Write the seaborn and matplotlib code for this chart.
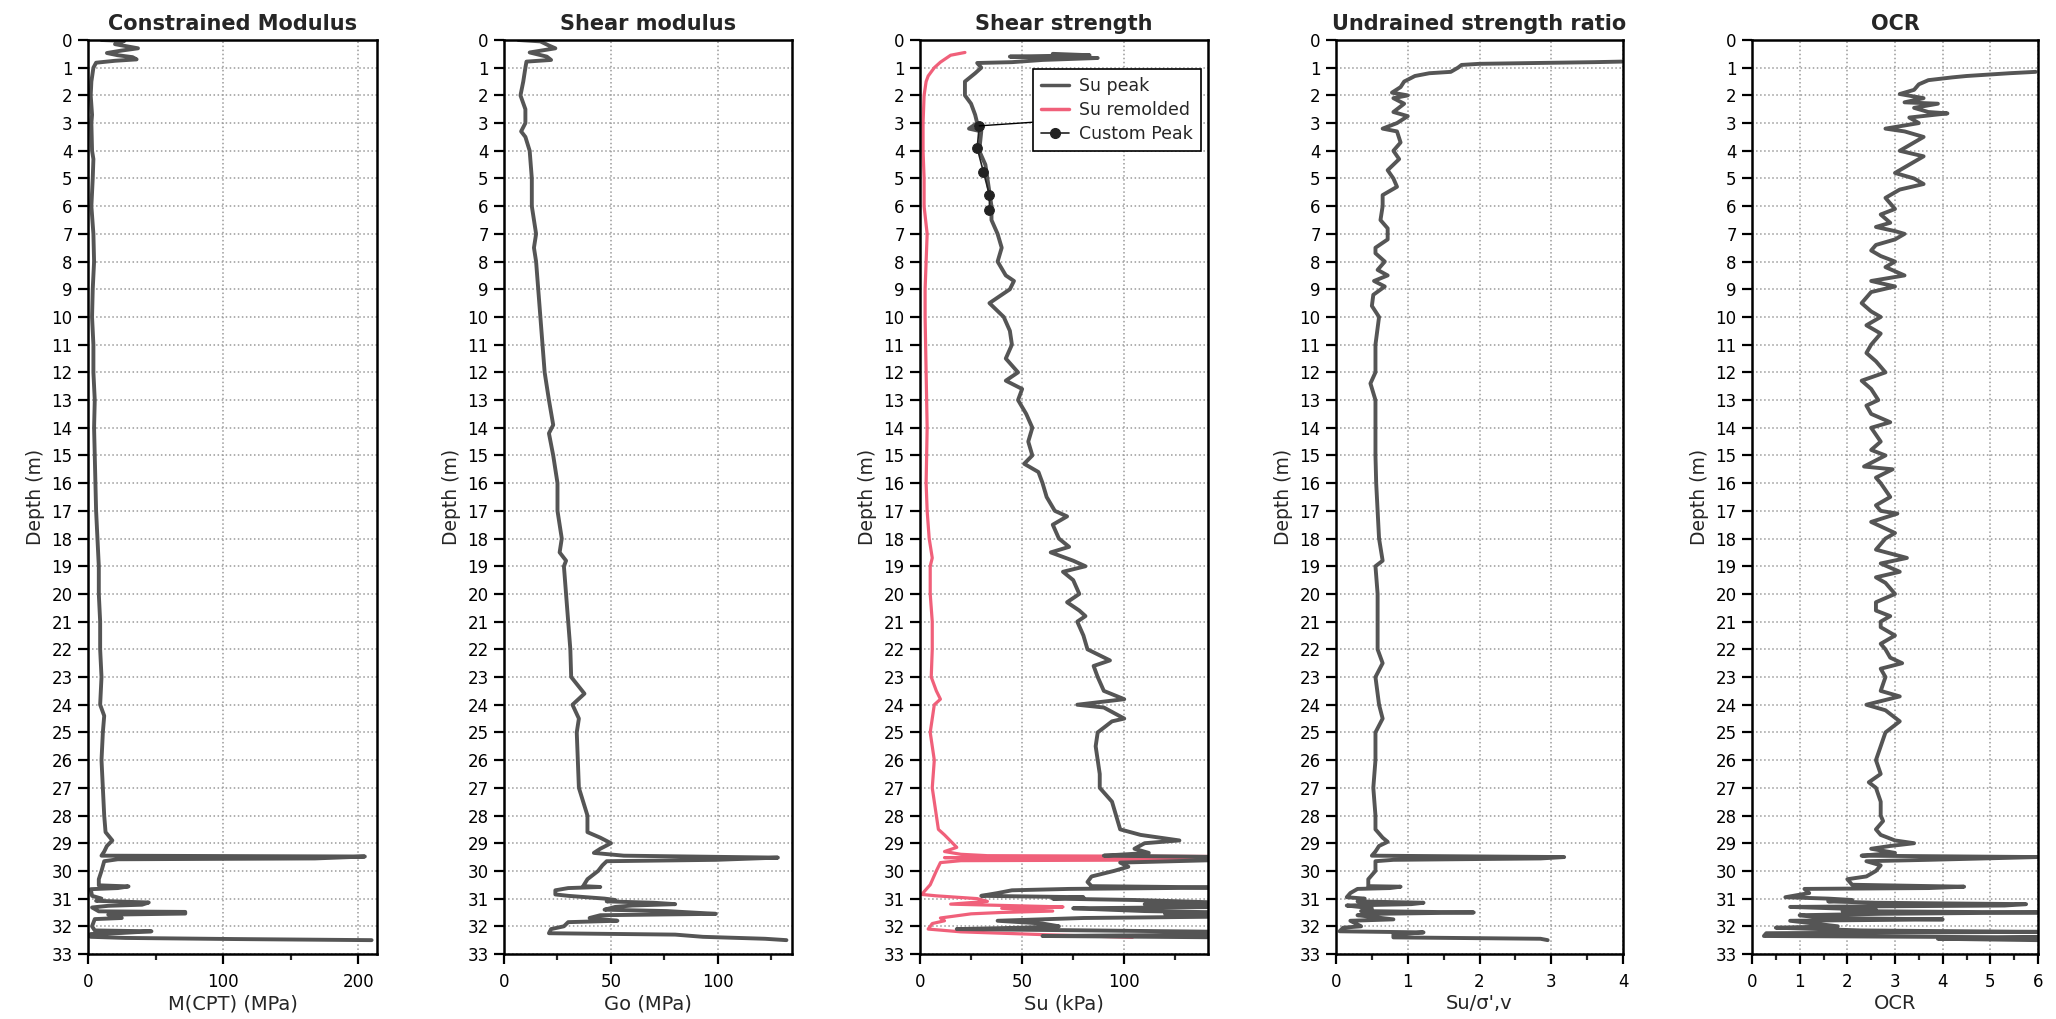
import matplotlib
matplotlib.use("Agg")
import matplotlib.pyplot as plt
from matplotlib.lines import Line2D
from matplotlib.ticker import MultipleLocator
import numpy as np
import pandas as pd
import seaborn as sns

# (depth m, value) pairs
m_cpt = [(0.0, 10), (0.03, 27), (0.15, 20), (0.30, 37), (0.38, 25), (0.47, 14), (0.55, 22),
         (0.62, 33), (0.70, 36), (0.75, 20), (0.82, 6), (1.0, 4), (1.5, 2.5), (2.0, 2), (2.7, 3),
         (3.0, 2.5), (4.0, 3), (4.3, 4), (5.0, 3.5), (6.0, 2.5), (7.0, 4), (8.0, 4.5), (9.0, 3.5),
         (10.0, 3), (11.0, 4), (12.0, 4), (13.0, 5), (14.0, 4.5), (15.0, 5), (16.0, 5.5), (17.0, 6),
         (18.0, 7), (19.0, 8), (20.0, 8), (21.0, 9), (22.0, 9), (23.0, 10), (24.0, 9), (24.4, 12),
         (25.0, 11), (26.0, 10), (27.0, 11), (28.0, 12), (28.6, 13), (28.9, 18), (29.1, 14),
         (29.3, 12), (29.45, 10), (29.48, 205), (29.55, 168), (29.58, 22), (29.65, 12), (30.0, 10),
         (30.3, 8), (30.52, 8), (30.56, 30), (30.62, 22), (30.66, 2), (30.9, 3), (31.0, 10),
         (31.08, 6), (31.14, 45), (31.22, 40), (31.26, 15), (31.32, 3), (31.46, 8), (31.48, 72),
         (31.54, 72), (31.58, 15), (31.7, 25), (31.74, 5), (32.0, 3), (32.15, 5), (32.18, 47),
         (32.24, 25), (32.28, 2), (32.38, 2), (32.42, 28), (32.46, 108), (32.5, 210)]

go = [(0.0, 6.7), (0.05, 17), (0.2, 21), (0.3, 24), (0.45, 12), (0.6, 20), (0.72, 22), (0.78, 10.5),
      (1.0, 10), (1.5, 9), (2.0, 7.7), (2.5, 10), (3.0, 10), (3.3, 8), (3.5, 10), (4.0, 12),
      (5.0, 13), (6.0, 13), (7.0, 15), (7.5, 14), (8.0, 15), (9.0, 16), (10.0, 17), (11.0, 18),
      (12.0, 19), (13.0, 21), (13.9, 23), (14.2, 21), (15.0, 23), (16.0, 25), (17.0, 25),
      (18.0, 27), (18.5, 26), (18.8, 29), (19.0, 28), (20.0, 29), (21.0, 30), (22.0, 31),
      (23.0, 31.4), (23.6, 37.6), (24.0, 32), (24.5, 35), (25.0, 34), (26.0, 34.5), (27.0, 35),
      (27.5, 37), (28.0, 39), (28.6, 39), (28.8, 45), (29.0, 50), (29.2, 45), (29.35, 42),
      (29.45, 56), (29.52, 128), (29.6, 99), (29.65, 48), (29.8, 46), (30.0, 44), (30.3, 39),
      (30.55, 37), (30.58, 45), (30.62, 30), (30.7, 24), (30.85, 24), (30.9, 30), (31.0, 47),
      (31.05, 52), (31.1, 48), (31.15, 70), (31.2, 80), (31.25, 60), (31.3, 52), (31.4, 47),
      (31.45, 76), (31.55, 99), (31.6, 45), (31.7, 40), (31.8, 53), (31.85, 30), (32.0, 28),
      (32.1, 22), (32.25, 21), (32.3, 80), (32.38, 93), (32.45, 122), (32.5, 132)]

su_peak = [(0.5, 65), (0.55, 83), (0.6, 44), (0.65, 87), (0.72, 60), (0.8, 45), (0.83, 28),
           (1.0, 30), (1.2, 27), (1.5, 22), (2.0, 22), (2.3, 25), (2.7, 27), (3.0, 28), (3.2, 24),
           (3.3, 30), (4.0, 29), (4.5, 32), (5.0, 33), (5.5, 34), (6.0, 35), (6.5, 35), (7.0, 38),
           (7.5, 40), (8.0, 38), (8.5, 42), (8.7, 46), (9.0, 44), (9.5, 34), (10.0, 41), (10.5, 44),
           (11.0, 45), (11.5, 42), (12.0, 48), (12.3, 42), (12.6, 50), (13.0, 48), (13.5, 52),
           (14.0, 55), (14.5, 53), (15.0, 55), (15.3, 51), (15.6, 58), (16.0, 60), (16.5, 62),
           (17.0, 66), (17.2, 72), (17.5, 65), (18.0, 68), (18.3, 73), (18.5, 64), (18.8, 75),
           (19.0, 81), (19.2, 70), (19.5, 75), (20.0, 78), (20.3, 72), (20.6, 78), (20.8, 81),
           (21.0, 77), (21.5, 80), (22.0, 82), (22.4, 93), (22.6, 85), (23.0, 87), (23.5, 90),
           (23.8, 100), (24.0, 77), (24.1, 90), (24.5, 100), (24.6, 94), (25.0, 87), (25.5, 86),
           (26.0, 87), (26.5, 88), (27.0, 88), (27.5, 94), (28.0, 96), (28.5, 98), (28.7, 108),
           (28.9, 127), (29.0, 110), (29.2, 105), (29.35, 112), (29.45, 90), (29.5, 150),
           (29.6, 150), (29.7, 98), (29.85, 102), (30.0, 95), (30.2, 84), (30.4, 82), (30.55, 84),
           (30.6, 150), (30.65, 73), (30.7, 45), (30.8, 38), (30.9, 30), (30.95, 80), (31.0, 65),
           (31.05, 105), (31.15, 150), (31.2, 110), (31.3, 150), (31.35, 75), (31.45, 110),
           (31.5, 150), (31.55, 120), (31.65, 150), (31.7, 80), (31.8, 38), (31.9, 60), (32.0, 68),
           (32.05, 50), (32.1, 18), (32.2, 150), (32.3, 150), (32.35, 60), (32.4, 150)]

su_remolded = [(0.45, 22), (0.55, 15), (0.7, 12), (0.8, 10), (1.0, 7), (1.3, 4), (1.5, 3), (2.0, 2),
               (3.0, 1.5), (4.0, 1.5), (5.0, 2), (6.0, 2), (7.0, 3.5), (8.0, 3), (9.0, 2.5),
               (10.0, 2.5), (12.0, 3), (14.0, 3.5), (16.0, 3), (17.0, 3.5), (18.0, 4.5), (18.7, 6),
               (19.0, 5), (20.0, 5), (21.0, 6), (22.0, 6), (23.0, 5.5), (23.5, 8), (23.8, 10),
               (24.0, 7), (25.0, 5), (26.0, 7), (27.0, 6), (28.0, 8), (28.5, 9), (28.7, 12),
               (29.0, 16), (29.15, 18), (29.3, 12), (29.4, 20), (29.45, 33), (29.48, 150),
               (29.52, 12), (29.55, 150), (29.6, 150), (29.63, 20), (29.7, 10), (30.0, 8), (30.5, 5),
               (30.75, 2), (30.85, 1), (30.9, 8), (30.95, 18), (31.0, 28), (31.1, 33), (31.2, 15),
               (31.3, 70), (31.35, 40), (31.45, 65), (31.5, 40), (31.55, 25), (31.7, 10), (31.8, 12),
               (31.9, 6), (32.0, 5), (32.1, 4), (32.2, 20), (32.3, 60), (32.4, 104)]

custom_peak = [(3.1, 29), (3.9, 28), (4.75, 31), (5.6, 34), (6.15, 34)]

su_ratio = [(0.78, 3.98), (0.8, 3.6), (0.86, 2.0), (0.9, 1.75), (1.0, 1.7), (1.15, 1.6), (1.2, 1.3),
            (1.3, 1.1), (1.5, 0.95), (1.7, 0.9), (1.9, 0.78), (2.0, 1.0), (2.1, 0.8), (2.3, 0.95),
            (2.6, 0.8), (2.75, 1.0), (3.0, 0.85), (3.2, 0.65), (3.3, 0.85), (3.7, 0.9), (4.0, 0.8),
            (4.3, 0.88), (4.7, 0.72), (5.0, 0.8), (5.3, 0.85), (5.6, 0.65), (6.0, 0.65),
            (6.5, 0.62), (6.8, 0.72), (7.2, 0.72), (7.5, 0.55), (7.7, 0.55), (8.0, 0.68),
            (8.3, 0.58), (8.5, 0.72), (8.7, 0.53), (8.9, 0.68), (9.2, 0.52), (9.6, 0.5),
            (10.0, 0.6), (11.0, 0.55), (12.0, 0.55), (12.4, 0.48), (13.0, 0.55), (14.0, 0.55),
            (15.0, 0.55), (16.0, 0.56), (17.0, 0.58), (18.0, 0.6), (18.8, 0.65), (19.0, 0.55),
            (20.0, 0.58), (21.0, 0.58), (22.0, 0.58), (22.5, 0.65), (23.0, 0.55), (24.0, 0.6),
            (24.5, 0.65), (25.0, 0.55), (26.0, 0.55), (27.0, 0.52), (28.0, 0.55), (28.5, 0.55),
            (28.8, 0.65), (28.95, 0.72), (29.1, 0.6), (29.3, 0.55), (29.45, 0.5), (29.5, 3.18),
            (29.55, 2.85), (29.6, 0.8), (29.65, 0.55), (30.0, 0.55), (30.3, 0.45), (30.55, 0.45),
            (30.57, 0.9), (30.62, 0.75), (30.65, 0.3), (30.8, 0.2), (30.95, 0.15), (31.0, 0.4),
            (31.1, 0.3), (31.15, 1.22), (31.2, 1.05), (31.25, 0.15), (31.35, 0.5), (31.45, 0.35),
            (31.5, 1.92), (31.55, 0.55), (31.6, 0.3), (31.75, 0.8), (31.8, 0.2), (32.0, 0.35),
            (32.05, 0.1), (32.18, 0.05), (32.22, 1.22), (32.3, 0.8), (32.4, 0.8), (32.45, 2.85),
            (32.5, 2.95)]

ocr = [(1.15, 5.95), (1.2, 5.4), (1.3, 4.5), (1.35, 4.2), (1.45, 3.7), (1.6, 3.5), (1.8, 3.4),
       (1.95, 3.1), (2.1, 3.6), (2.25, 3.2), (2.3, 3.9), (2.45, 3.4), (2.6, 3.7), (2.65, 4.1),
       (2.8, 3.3), (3.0, 3.5), (3.2, 2.8), (3.3, 3.2), (3.5, 3.6), (3.8, 3.3), (4.0, 3.1),
       (4.2, 3.6), (4.5, 3.3), (4.8, 3.0), (5.0, 3.4), (5.2, 3.6), (5.4, 3.1), (5.7, 2.8),
       (5.9, 2.9), (6.1, 3.0), (6.3, 2.7), (6.6, 2.9), (6.75, 2.6), (6.9, 3.0), (7.0, 3.2),
       (7.2, 3.0), (7.4, 2.6), (7.6, 2.5), (7.8, 2.7), (8.0, 3.0), (8.2, 2.8), (8.5, 3.2),
       (8.7, 2.5), (8.9, 3.0), (9.1, 2.5), (9.5, 2.3), (9.8, 2.5), (10.0, 2.7), (10.3, 2.4),
       (10.6, 2.7), (11.0, 2.5), (11.3, 2.4), (11.6, 2.6), (12.0, 2.8), (12.3, 2.3), (12.6, 2.5),
       (13.0, 2.65), (13.2, 2.4), (13.5, 2.5), (13.8, 2.9), (14.0, 2.5), (14.5, 2.7), (14.8, 2.5),
       (15.0, 2.8), (15.4, 2.35), (15.5, 2.95), (15.8, 2.6), (16.0, 2.7), (16.5, 2.9), (16.8, 2.6),
       (17.0, 2.7), (17.1, 3.05), (17.4, 2.5), (17.8, 3.0), (18.0, 2.8), (18.4, 2.6), (18.7, 3.25),
       (18.9, 2.7), (19.2, 3.1), (19.4, 2.6), (19.6, 2.8), (20.0, 3.0), (20.3, 2.6), (20.6, 2.6),
       (20.8, 2.9), (21.0, 2.7), (21.2, 2.7), (21.5, 3.0), (21.8, 2.7), (22.0, 2.8), (22.3, 2.9),
       (22.5, 3.15), (22.7, 2.7), (23.0, 2.8), (23.5, 2.7), (23.7, 3.1), (24.0, 2.4), (24.2, 2.8),
       (24.6, 3.1), (25.0, 2.8), (25.5, 2.7), (26.0, 2.6), (26.5, 2.7), (26.8, 2.45), (27.0, 2.6),
       (27.5, 2.7), (28.0, 2.7), (28.2, 2.75), (28.5, 2.6), (28.7, 2.7), (28.9, 3.0), (29.0, 3.4),
       (29.1, 2.9), (29.2, 2.5), (29.35, 3.0), (29.45, 2.3), (29.5, 6.0), (29.6, 3.7), (29.65, 2.4),
       (29.8, 2.7), (30.0, 2.6), (30.2, 2.4), (30.3, 2.0), (30.5, 2.1), (30.57, 4.45), (30.62, 3.7),
       (30.65, 1.1), (30.8, 1.2), (30.95, 0.7), (31.0, 1.6), (31.05, 2.1), (31.1, 1.6), (31.15, 2.6),
       (31.2, 5.75), (31.25, 5.3), (31.3, 0.8), (31.4, 2.6), (31.45, 1.9), (31.5, 6.0), (31.55, 2.7),
       (31.6, 1.0), (31.7, 1.5), (31.75, 4.0), (31.8, 0.8), (31.9, 1.3), (32.0, 1.8), (32.05, 0.5),
       (32.15, 2.3), (32.2, 6.0), (32.25, 0.3), (32.35, 0.25), (32.4, 6.0), (32.45, 3.9), (32.5, 6.0)]

titles = ["Constrained Modulus", "Shear modulus", "Shear strength", "Undrained strength ratio", "OCR"]
xlabels = ["M(CPT) (MPa)", "Go (MPa)", "Su (kPa)", "Su/σ',v", "OCR"]
legend_labels = ["Su peak", "Su remolded", "Custom Peak"]

GRAY = "#555555"
PINK = "#f0607a"

sns.set_style("ticks")
plt.rcParams["font.family"] = ["DejaVu Sans"]

fig = plt.figure(figsize=(20.56, 10.19), dpi=100)

# left edges / widths of each track in pixels
lefts = [88, 504, 920, 1336, 1752]
widths = [289, 288, 288, 287, 286]
xmax = [214, 134.6, 141, 4, 6]
majors = [100, 50, 50, 1, 1]
minors = [50, 25, 25, 0.5, 0.5]

W, H = 2056, 1019
bottom, top = 954, 40


def profile(ax, pairs, color, lw=2.8):
    df = pd.DataFrame(pairs, columns=["depth", "value"])
    sns.lineplot(data=df, x="value", y="depth", sort=False, estimator=None,
                 color=color, linewidth=lw, ax=ax)


axes = []
for i in range(5):
    ax = fig.add_axes([lefts[i] / W, 1 - bottom / H, widths[i] / W, (bottom - top) / H])
    axes.append(ax)

profile(axes[0], m_cpt, GRAY)
profile(axes[1], go, GRAY)
profile(axes[2], su_remolded, PINK, lw=2.3)
profile(axes[2], su_peak, GRAY)
cp = pd.DataFrame(custom_peak, columns=["depth", "value"])
sns.lineplot(data=cp, x="value", y="depth", sort=False, estimator=None, color="#222222",
             linewidth=1.2, marker="o", markersize=7, markeredgecolor="#222222", ax=axes[2])
profile(axes[3], su_ratio, GRAY)
profile(axes[4], ocr, GRAY)

for i, ax in enumerate(axes):
    ax.set_xlim(0, xmax[i])
    ax.set_ylim(33, 0)
    ax.set_yticks(np.arange(0, 34, 1))
    ax.xaxis.set_major_locator(MultipleLocator(majors[i]))
    ax.xaxis.set_minor_locator(MultipleLocator(minors[i]))
    ax.grid(True, which="major", linestyle=":", color="#9a9a9a", linewidth=1.1)
    for s in ax.spines.values():
        s.set_visible(True)
        s.set_color("black")
        s.set_linewidth(1.8)
    ax.tick_params(which="major", direction="out", length=7, width=1.6, labelsize=12,
                   colors="black", pad=4)
    ax.tick_params(axis="x", which="major", pad=7)
    ax.tick_params(which="minor", direction="out", length=4, width=1.6)
    ax.tick_params(axis="y", which="minor", left=False)
    ax.set_title(titles[i], fontsize=15, fontweight="bold", pad=7)
    ax.set_xlabel(xlabels[i], fontsize=14, labelpad=2)
    ax.set_ylabel("Depth (m)", fontsize=13.5, labelpad=5)

ax = axes[2]
handles = [Line2D([], [], color=GRAY, lw=2.5),
           Line2D([], [], color=PINK, lw=2.5),
           Line2D([], [], color="#222222", lw=1.2, marker="o", markersize=7)]
leg = ax.legend(handles, legend_labels, loc="upper right", bbox_to_anchor=(0.975, 0.968),
                fontsize=12.5, fancybox=False, edgecolor="black", framealpha=1,
                borderpad=0.45, handlelength=1.6, handletextpad=0.6, labelspacing=0.35,
                borderaxespad=0)
leg.get_frame().set_linewidth(1.2)
ax.annotate("", xy=(custom_peak[0][1], custom_peak[0][0]), xycoords="data",
            xytext=(0.39, 0.91), textcoords="axes fraction",
            arrowprops=dict(arrowstyle="-", color="black", lw=1, shrinkA=0, shrinkB=0))

fig.savefig("out.png", dpi=100, facecolor="white")
